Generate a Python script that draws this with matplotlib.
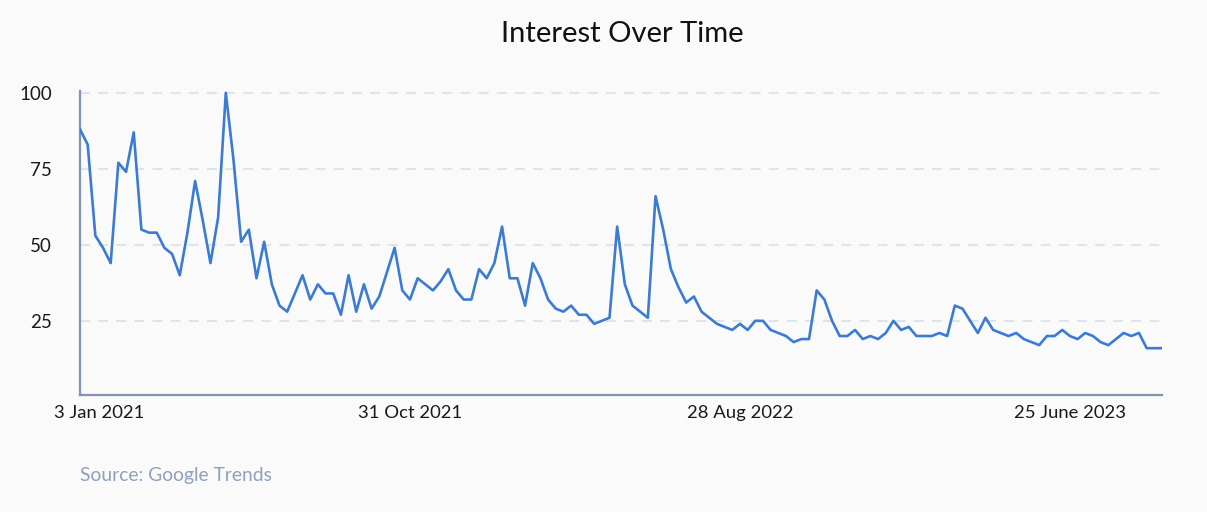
import matplotlib
matplotlib.use('Agg')
import matplotlib.pyplot as plt
import matplotlib.transforms as mtransforms
import numpy as np
import pandas as pd

# ---- data (weekly Google Trends interest) ----
start_date = '2021-01-03'
interest = [
    88, 83, 53, 49, 44, 77, 74, 87, 55, 54,
    54, 49, 47, 40, 54, 71, 58, 44, 59, 100,
    78, 51, 55, 39, 51, 37, 30, 28, 34, 40,
    32, 37, 34, 34, 27, 40, 28, 37, 29, 33,
    41, 49, 35, 32, 39, 37, 35, 38, 42, 35,
    32, 32, 42, 39, 44, 56, 39, 39, 30, 44,
    39, 32, 29, 28, 30, 27, 27, 24, 25, 26,
    56, 37, 30, 28, 26, 66, 55, 42, 36, 31,
    33, 28, 26, 24, 23, 22, 24, 22, 25, 25,
    22, 21, 20, 18, 19, 19, 35, 32, 25, 20,
    20, 22, 19, 20, 19, 21, 25, 22, 23, 20,
    20, 20, 21, 20, 30, 29, 25, 21, 26, 22,
    21, 20, 21, 19, 18, 17, 20, 20, 22, 20,
    19, 21, 20, 18, 17, 19, 21, 20, 21, 16,
    16, 16,
]
tick_dates = ['2021-01-03', '2021-10-31', '2022-08-28', '2023-06-25']
tick_labels = ['3 Jan 2021', '31 Oct 2021', '28 Aug 2022', '25 June 2023']
y_ticks = [25, 50, 75, 100]
y_tick_labels = ['25', '50', '75', '100']
title = 'Interest Over Time'
source = 'Source: Google Trends'

weeks = pd.date_range(start_date, periods=len(interest), freq='7D')
x = np.arange(len(interest))
tick_idx = [weeks.get_loc(pd.Timestamp(d)) for d in tick_dates]

plt.rcParams['font.family'] = ['Lato', 'DejaVu Sans']

W, H = 1207, 512
bg = '#fafafa'
fig = plt.figure(figsize=(W / 100, H / 100), dpi=100, facecolor=bg)
ax = fig.add_axes([80 / W, (H - 395) / H, 1082 / W, 304 / H])
ax.set_facecolor(bg)

ax.plot(x, interest, color='#3b7bd4', lw=1.9, solid_joinstyle='round', zorder=3)

ax.set_xlim(0, len(interest) - 1)
ax.set_ylim(0.6, 100.6)

ax.set_yticks(y_ticks)
ax.set_yticklabels(y_tick_labels)
ax.set_xticks(tick_idx)
ax.set_xticklabels(tick_labels)

ax.yaxis.grid(True, color='#dfe4eb', lw=1.5, linestyle=(0, (4.8, 3.9)))
ax.xaxis.grid(False)
ax.set_axisbelow(True)

for s in ['top', 'right']:
    ax.spines[s].set_visible(False)
for s in ['left', 'bottom']:
    ax.spines[s].set_color('#8195b2')
    ax.spines[s].set_linewidth(1.6)

ax.tick_params(axis='y', length=0, pad=20, labelsize=13.5, labelcolor='#1a1a1a')
ax.tick_params(axis='x', length=0, pad=7, labelsize=13.3, labelcolor='#1a1a1a')

# first label sits slightly right of the first data point, as in the reference
lbl0 = ax.get_xticklabels()[0]
lbl0.set_transform(lbl0.get_transform() + mtransforms.ScaledTranslation(19 / 100, 0, fig.dpi_scale_trans))

fig.text(622 / W, 1 - 34 / H, title, ha='center', va='center', fontsize=21, color='#111111')
fig.text(80 / W, 1 - 476 / H, source, ha='left', va='center', fontsize=13.9, color='#8ea1bd')

fig.savefig('out.png', dpi=100, facecolor=bg)
